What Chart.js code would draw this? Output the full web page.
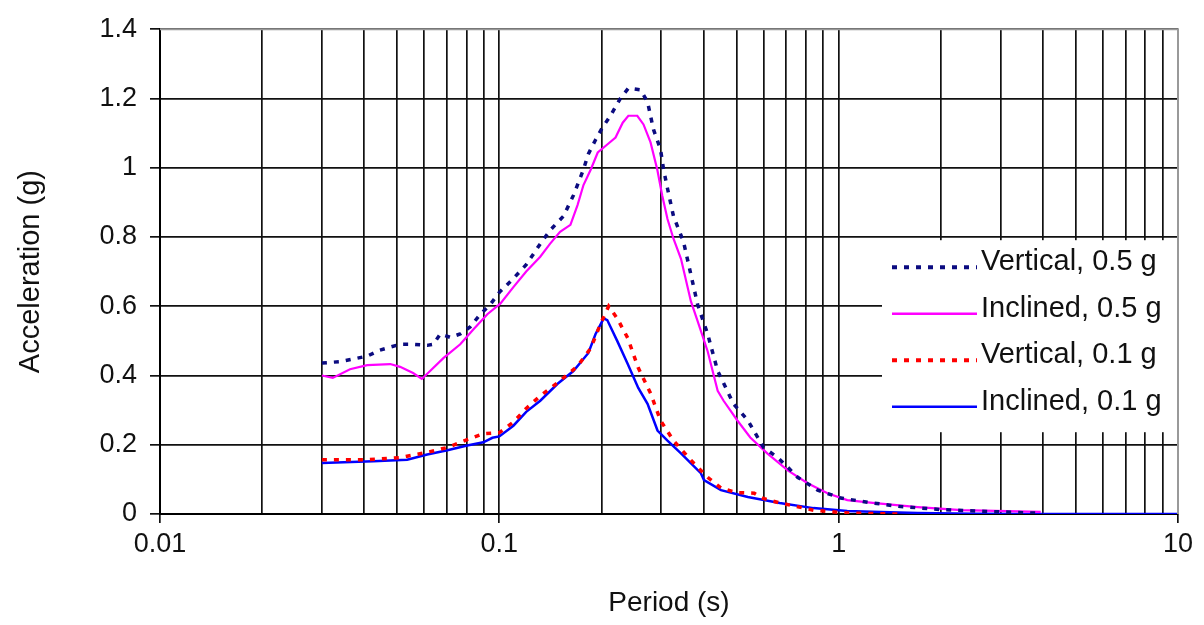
<!DOCTYPE html>
<html>
<head>
<meta charset="utf-8">
<script src="https://cdn.jsdelivr.net/npm/chart.js@4.4.1/dist/chart.umd.min.js"></script>
<style>
  html, body { margin: 0; padding: 0; background: #fff; }
  #wrap { width: 1204px; height: 625px; }
</style>
</head>
<body>
<div id="wrap"><canvas id="spectrumChart" width="1204" height="625"></canvas></div>
<script>
// series names
const seriesNames = ['Vertical, 0.5 g', 'Inclined, 0.5 g', 'Vertical, 0.1 g', 'Inclined, 0.1 g'];

// Vertical, 0.5 g
const periodVert05 = [0.03, 0.034, 0.0408, 0.0444, 0.051, 0.0557, 0.0613, 0.0639, 0.067, 0.0717, 0.0767, 0.082, 0.0879, 0.094,
    0.1, 0.11, 0.12, 0.132, 0.1413, 0.1545, 0.1653, 0.177, 0.183, 0.192, 0.201, 0.2125, 0.2274, 0.2402, 0.2607, 0.2734,
    0.2847, 0.2985, 0.3048, 0.313, 0.326, 0.349, 0.384, 0.411, 0.44, 0.49, 0.54, 0.601, 0.661, 0.708, 0.757, 0.867,
    1.014, 1.218, 1.5, 2.0, 3.0, 4.0];
const accVert05 = [0.436, 0.44, 0.456, 0.473, 0.49, 0.49, 0.487, 0.49, 0.52, 0.51, 0.52, 0.54, 0.577, 0.605,
    0.64, 0.68, 0.72, 0.78, 0.82, 0.86, 0.92, 0.995, 1.04, 1.08, 1.115, 1.15, 1.2, 1.23, 1.225, 1.19,
    1.11, 1.053, 0.995, 0.94, 0.86, 0.786, 0.605, 0.52, 0.413, 0.318, 0.27, 0.192, 0.163, 0.135, 0.106, 0.069,
    0.046, 0.034, 0.022, 0.013, 0.006, 0.002];

// Inclined, 0.5 g
const periodIncl05 = [0.03, 0.0323, 0.0363, 0.0408, 0.0477, 0.051, 0.0557, 0.0591, 0.0625, 0.0684, 0.0767, 0.0838, 0.0922,
    0.1008, 0.11, 0.12, 0.132, 0.141, 0.151, 0.162, 0.17, 0.177, 0.186, 0.195, 0.208, 0.22, 0.231, 0.24, 0.255, 0.266,
    0.279, 0.292, 0.302, 0.313, 0.326, 0.343, 0.367, 0.384, 0.411, 0.44, 0.458, 0.503, 0.549, 0.616, 0.708, 0.81,
    0.927, 1.06, 1.26, 1.71, 2.3, 3.94];
const accIncl05 = [0.40, 0.393, 0.418, 0.43, 0.433, 0.425, 0.407, 0.39, 0.413, 0.45, 0.49, 0.533, 0.577,
    0.608, 0.655, 0.70, 0.743, 0.78, 0.815, 0.835, 0.892, 0.95, 0.995, 1.044, 1.067, 1.087, 1.13, 1.15, 1.15, 1.125,
    1.073, 0.995, 0.92, 0.852, 0.795, 0.737, 0.614, 0.557, 0.47, 0.356, 0.327, 0.27, 0.221, 0.175, 0.126, 0.089,
    0.06, 0.04, 0.032, 0.02, 0.011, 0.006];

// Vertical, 0.1 g
const periodVert01 = [0.03, 0.0408, 0.051, 0.0613, 0.0703, 0.0804, 0.0897, 0.1, 0.11, 0.12, 0.132, 0.1485, 0.17, 0.186,
    0.1985, 0.21, 0.2225, 0.239, 0.2567, 0.2795, 0.2985, 0.326, 0.367, 0.411, 0.45, 0.5, 0.564, 0.6, 0.67, 0.843, 1.06, 1.5];
const accVert01 = [0.157, 0.157, 0.163, 0.178, 0.192, 0.215, 0.232, 0.235, 0.265, 0.305, 0.341, 0.379, 0.427, 0.479,
    0.548, 0.60, 0.565, 0.508, 0.422, 0.347, 0.27, 0.212, 0.155, 0.106, 0.075, 0.062, 0.06, 0.045, 0.032, 0.011, 0.003, 0.0];

// Inclined, 0.1 g
const periodIncl01 = [0.03, 0.0425, 0.0535, 0.0613, 0.0703, 0.0804, 0.0897, 0.0954, 0.1, 0.11, 0.12, 0.132, 0.1485, 0.1653,
    0.183, 0.192, 0.203, 0.208, 0.2225, 0.239, 0.2567, 0.2734, 0.2925, 0.313, 0.343, 0.3925, 0.401, 0.45, 0.54, 0.67,
    0.843, 1.06, 1.33, 1.71, 2.5, 4, 10];
const accIncl01 = [0.147, 0.152, 0.157, 0.172, 0.184, 0.198, 0.207, 0.22, 0.224, 0.255, 0.295, 0.327, 0.376, 0.413,
    0.465, 0.519, 0.565, 0.56, 0.5, 0.433, 0.364, 0.318, 0.241, 0.212, 0.175, 0.118, 0.098, 0.069, 0.049, 0.032,
    0.017, 0.009, 0.006, 0.003, 0.001, 0, 0];

// axis ticks
const xTickValues = [0.01, 0.1, 1, 10];
const xTickLabels = ['0.01', '0.1', '1', '10'];
const yTickLabels = ['0', '0.2', '0.4', '0.6', '0.8', '1', '1.2', '1.4'];

const FONT = "'Liberation Sans', Arial, sans-serif";

function toPoints(xs, ys) {
    return xs.map((x, i) => ({ x: x, y: ys[i] }));
}

function isDecade(v) {
    return xTickValues.some(d => Math.abs(Math.log10(v) - Math.log10(d)) < 1e-9);
}

// gridline positions on the log axis: 1..9 per decade
const gridPeriods = [];
for (let d = 0; d < xTickValues.length - 1; d++) {
    for (let k = 1; k < 10; k++) gridPeriods.push(+(xTickValues[d] * k).toPrecision(6));
}
gridPeriods.push(xTickValues[xTickValues.length - 1]);

// legend drawn inside the plot, in a white box
const insideLegend = {
    id: 'insideLegend',
    afterDatasetsDraw(chart) {
        const ctx = chart.ctx;
        const area = chart.chartArea;
        const boxLeft = area.right - 296;
        const boxTop = area.top + 211;
        ctx.save();
        ctx.fillStyle = '#fff';
        ctx.fillRect(boxLeft, boxTop, area.right - boxLeft - 1, 192);
        ctx.font = '29px ' + FONT;
        ctx.textBaseline = 'middle';
        ctx.textAlign = 'left';
        chart.data.datasets.forEach((ds, i) => {
            const y = boxTop + 27 + i * 46.5;
            ctx.beginPath();
            ctx.strokeStyle = ds.borderColor;
            ctx.lineWidth = ds.borderDash.length ? 4 : 2.5;
            ctx.setLineDash(ds.borderDash);
            ctx.moveTo(boxLeft + 10, y);
            ctx.lineTo(boxLeft + 95, y);
            ctx.stroke();
            ctx.setLineDash([]);
            ctx.fillStyle = '#111';
            ctx.fillText(ds.label, boxLeft + 99, y - 5);
        });
        ctx.restore();
    },
    afterDraw(chart) {
        const ctx = chart.ctx;
        const a = chart.chartArea;
        ctx.save();
        ctx.strokeStyle = '#999';
        ctx.lineWidth = 2;
        ctx.beginPath();
        ctx.moveTo(a.left, a.top);
        ctx.lineTo(a.right, a.top);
        ctx.lineTo(a.right, a.bottom);
        ctx.stroke();
        ctx.restore();
    }
};

new Chart(document.getElementById('spectrumChart').getContext('2d'), {
    type: 'line',
    data: {
        datasets: [
            {
                label: seriesNames[0],
                data: toPoints(periodVert05, accVert05),
                borderColor: '#0b0b80',
                borderWidth: 3.5,
                borderDash: [5, 7]
            },
            {
                label: seriesNames[1],
                data: toPoints(periodIncl05, accIncl05),
                borderColor: '#ff00ff',
                borderWidth: 2.2,
                borderDash: []
            },
            {
                label: seriesNames[2],
                data: toPoints(periodVert01, accVert01),
                borderColor: '#ff0000',
                borderWidth: 3.5,
                borderDash: [5, 7]
            },
            {
                label: seriesNames[3],
                data: toPoints(periodIncl01, accIncl01),
                borderColor: '#0000ff',
                borderWidth: 2.5,
                borderDash: []
            }
        ]
    },
    options: {
        responsive: false,
        animation: false,
        layout: { padding: { top: 27, right: 26, left: 0, bottom: 0 } },
        elements: {
            point: { radius: 0 },
            line: { tension: 0, fill: false, borderCapStyle: 'butt' }
        },
        plugins: {
            legend: { display: false },
            tooltip: { enabled: false }
        },
        scales: {
            x: {
                type: 'logarithmic',
                min: 0.01,
                max: 10,
                afterBuildTicks: function (scale) {
                    scale.ticks = gridPeriods.map(v => ({ value: v, major: isDecade(v) }));
                },
                afterFit: function (scale) { scale.height = 111; },
                grid: {
                    color: '#111',
                    lineWidth: 1.7,
                    tickLength: 9,
                    tickColor: function (ctx) {
                        return ctx.tick && isDecade(ctx.tick.value) ? '#111' : 'rgba(0,0,0,0)';
                    }
                },
                border: { color: '#000', width: 2 },
                ticks: {
                    autoSkip: false,
                    maxRotation: 0,
                    padding: 5,
                    color: '#111',
                    font: { family: FONT, size: 27 },
                    callback: function (value) {
                        const idx = xTickValues.findIndex(d => Math.abs(Math.log10(value) - Math.log10(d)) < 1e-9);
                        return idx >= 0 ? xTickLabels[idx] : '';
                    }
                },
                title: {
                    display: true,
                    text: 'Period (s)',
                    color: '#111',
                    font: { family: FONT, size: 28 },
                    padding: { top: 0, bottom: 5 }
                }
            },
            y: {
                min: 0,
                max: 1.4,
                afterFit: function (scale) { scale.width = 160; },
                grid: {
                    color: '#111',
                    lineWidth: 1.7,
                    tickLength: 10,
                    tickColor: '#111'
                },
                border: { color: '#000', width: 2 },
                ticks: {
                    stepSize: 0.2,
                    padding: 13,
                    color: '#111',
                    font: { family: FONT, size: 27 },
                    callback: function (value, index) {
                        return yTickLabels[index];
                    }
                },
                title: {
                    display: true,
                    text: 'Acceleration (g)',
                    color: '#111',
                    font: { family: FONT, size: 29 },
                    padding: { top: 14, bottom: 0 }
                }
            }
        }
    },
    plugins: [insideLegend]
});
</script>
</body>
</html>
